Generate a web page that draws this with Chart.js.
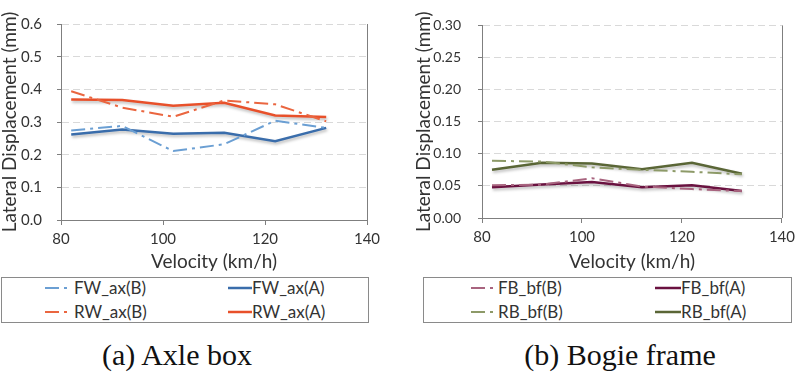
<!DOCTYPE html>
<html>
<head>
<meta charset="utf-8">
<script src="https://cdn.jsdelivr.net/npm/chart.js@4.4.1/dist/chart.umd.min.js"></script>
<style>
  html, body { margin: 0; padding: 0; background: #fff; }
  body { width: 800px; height: 375px; position: relative; overflow: hidden; font-family: Lato, sans-serif; }
  .cv { position: absolute; top: 0; width: 400px; height: 275px; }
  .legend { position: absolute; top: 277px; height: 46px; border: 1px solid #8a8a8a; box-sizing: border-box; }
  .item { position: absolute; height: 20px; font-size: 17px; color: #333; line-height: 20px; white-space: nowrap; }
  .item svg { position: absolute; top: 5px; }
  .item span { position: absolute; top: 0; }
  .cap { position: absolute; top: 338px; font-family: "Liberation Serif", "Times New Roman", serif; font-size: 30px; color: #111; white-space: nowrap; transform: translateX(-50%); }
</style>
</head>
<body>
<div class="cv" style="left:0"><canvas id="c1" width="400" height="275"></canvas></div>
<div class="cv" style="left:400px"><canvas id="c2" width="400" height="275"></canvas></div>
<div id="leg1" class="legend" style="left:1px; width:368px;"></div>
<div id="leg2" class="legend" style="left:423px; width:369px;"></div>
<div class="cap" style="left:177px">(a) Axle box</div>
<div class="cap" style="left:620px">(b) Bogie frame</div>
<script>
// ---- data ----
const velocity = [82, 92, 102, 112, 122, 132];
const xTicks = [80, 100, 120, 140];
const yTicksA = [0, 0.1, 0.2, 0.3, 0.4, 0.5, 0.6];
const yTicksB = [0, 0.05, 0.10, 0.15, 0.20, 0.25, 0.30];

const FW_ax_B = [0.274, 0.288, 0.211, 0.232, 0.304, 0.282];
const FW_ax_A = [0.262, 0.277, 0.264, 0.267, 0.241, 0.282];
const RW_ax_B = [0.394, 0.344, 0.316, 0.366, 0.354, 0.302];
const RW_ax_A = [0.369, 0.367, 0.350, 0.359, 0.320, 0.315];

const FB_bf_B = [0.051, 0.052, 0.062, 0.049, 0.045, 0.042];
const FB_bf_A = [0.048, 0.052, 0.056, 0.048, 0.051, 0.042];
const RB_bf_B = [0.089, 0.088, 0.079, 0.075, 0.072, 0.068];
const RB_bf_A = [0.075, 0.086, 0.085, 0.076, 0.086, 0.069];

const seriesA = [
  { label: 'FW_ax(B)', data: FW_ax_B, color: '#6b9fd3', dashed: true },
  { label: 'FW_ax(A)', data: FW_ax_A, color: '#3a6dab', dashed: false },
  { label: 'RW_ax(B)', data: RW_ax_B, color: '#ea6640', dashed: true },
  { label: 'RW_ax(A)', data: RW_ax_A, color: '#e8502a', dashed: false }
];
const seriesB = [
  { label: 'FB_bf(B)', data: FB_bf_B, color: '#a8647f', dashed: true },
  { label: 'FB_bf(A)', data: FB_bf_A, color: '#6a1240', dashed: false },
  { label: 'RB_bf(B)', data: RB_bf_B, color: '#8d9a68', dashed: true },
  { label: 'RB_bf(A)', data: RB_bf_A, color: '#5a6636', dashed: false }
];

const DASHDOT = [14, 5, 3, 5];
const AXIS = '#7f7f7f';
const FONT = 'Lato';

const shadowPlugin = {
  id: 'shadow',
  beforeDatasetDraw(chart, args) {
    const ds = chart.data.datasets[args.index];
    chart.ctx.save();
    if (ds.shadow) {
      chart.ctx.shadowColor = 'rgba(0,0,0,0.28)';
      chart.ctx.shadowBlur = 3;
      chart.ctx.shadowOffsetX = 1;
      chart.ctx.shadowOffsetY = 2;
    }
  },
  afterDatasetDraw(chart) { chart.ctx.restore(); }
};
const rightBorder = {
  id: 'rightBorder',
  afterDraw(chart) {
    const a = chart.chartArea, ctx = chart.ctx;
    ctx.save();
    ctx.strokeStyle = AXIS; ctx.lineWidth = 1;
    ctx.beginPath();
    ctx.moveTo(Math.round(a.right) + 0.5, a.top);
    ctx.lineTo(Math.round(a.right) + 0.5, a.bottom);
    ctx.stroke();
    ctx.restore();
  }
};

function makeChart(id, series, yTicks, decimals, pad, yWidth, xHeight, yTickSize, yTickPad) {
  const datasets = series.map(s => ({
    label: s.label,
    data: velocity.map((v, i) => ({ x: v, y: s.data[i] })),
    borderColor: s.color,
    backgroundColor: s.color,
    borderWidth: s.dashed ? 2 : 2.5,
    borderDash: s.dashed ? DASHDOT : [],
    pointRadius: 0,
    tension: 0,
    fill: false,
    shadow: !s.dashed
  }));
  return new Chart(document.getElementById(id), {
    type: 'line',
    data: { datasets },
    plugins: [shadowPlugin, rightBorder],
    options: {
      responsive: false,
      animation: false,
      layout: { padding: pad },
      plugins: { legend: { display: false }, tooltip: { enabled: false } },
      scales: {
        x: {
          type: 'linear', min: xTicks[0], max: xTicks[xTicks.length - 1],
          afterBuildTicks: s => { s.ticks = xTicks.map(v => ({ value: v })); },
          afterFit: s => { s.height = xHeight; },
          grid: { drawOnChartArea: false, drawTicks: true, tickLength: 5, tickColor: AXIS },
          border: { display: true, color: AXIS, width: 1 },
          ticks: { color: '#333', font: { family: FONT, size: 15 }, padding: 5, maxRotation: 0 },
          title: { display: true, text: 'Velocity (km/h)', color: '#333', font: { family: FONT, size: 19 }, padding: { top: 0, bottom: 2 } }
        },
        y: {
          type: 'linear', min: yTicks[0], max: yTicks[yTicks.length - 1],
          afterBuildTicks: s => { s.ticks = yTicks.map(v => ({ value: v })); },
          afterFit: s => { s.width = yWidth; },
          grid: {
            color: c => (c.tick && c.tick.value === 0) ? 'rgba(0,0,0,0)' : '#d9d9d9',
            tickColor: AXIS, tickLength: 4, lineWidth: 1
          },
          border: { display: true, color: AXIS, width: 1, dash: [7, 4] },
          ticks: { color: '#333', font: { family: FONT, size: yTickSize }, padding: yTickPad, callback: v => Number(v).toFixed(decimals) },
          title: { display: true, text: 'Lateral Displacement (mm)', color: '#333', font: { family: FONT, size: 19, lineHeight: 1 }, padding: { top: 0, bottom: 0 } }
        }
      }
    }
  });
}

makeChart('c1', seriesA, yTicksA, 1, { left: 0, top: 8, right: 33, bottom: 0 }, 61, 55, 15, 15);
makeChart('c2', seriesB, yTicksB, 2, { left: 14, top: 8, right: 12, bottom: 0 }, 68, 57, 14, 17);

function buildLegend(elId, series, offs) {
  const el = document.getElementById(elId);
  const rows = [10, 34];
  series.forEach((s, i) => {
    const col = i % 2, row = Math.floor(i / 2);
    const o = offs[col];
    const it = document.createElement('div');
    it.className = 'item';
    it.style.left = o.sample + 'px';
    it.style.top = (rows[row] - 10) + 'px';
    const w = o.text - o.sample;
    const svg = document.createElementNS('http://www.w3.org/2000/svg', 'svg');
    svg.setAttribute('width', w); svg.setAttribute('height', 10);
    const ln = document.createElementNS('http://www.w3.org/2000/svg', 'line');
    ln.setAttribute('x1', 0); ln.setAttribute('x2', s.dashed ? 22 : w);
    ln.setAttribute('y1', 5); ln.setAttribute('y2', 5);
    ln.setAttribute('stroke', s.color);
    ln.setAttribute('stroke-width', s.dashed ? 2 : 2.5);
    if (s.dashed) ln.setAttribute('stroke-dasharray', DASHDOT.join(' '));
    svg.appendChild(ln);
    it.appendChild(svg);
    const sp = document.createElement('span');
    sp.textContent = s.label;
    sp.style.left = w + 'px';
    it.appendChild(sp);
    el.appendChild(it);
  });
}
buildLegend('leg1', seriesA, [{ sample: 43, text: 72 }, { sample: 226, text: 250 }]);
buildLegend('leg2', seriesB, [{ sample: 47, text: 74 }, { sample: 231, text: 257 }]);
</script>
</body>
</html>
